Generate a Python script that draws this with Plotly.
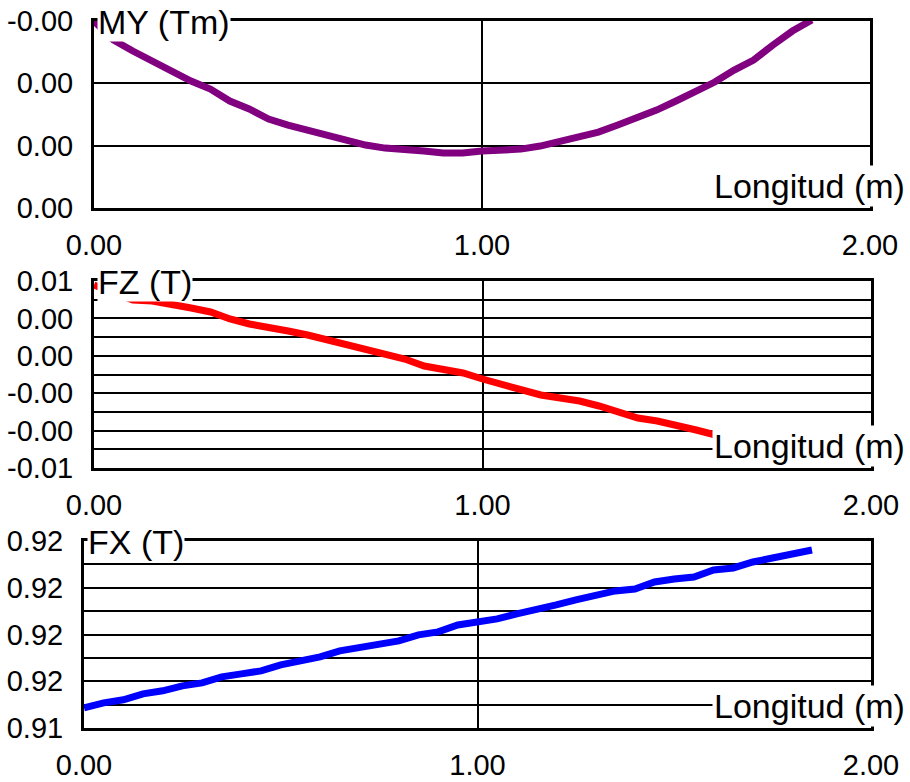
import plotly.graph_objects as go

# ---------------- data ----------------
longitud_m = [0.00, 0.05, 0.10, 0.15, 0.20, 0.25, 0.30, 0.35, 0.40, 0.45,
              0.50, 0.55, 0.60, 0.65, 0.70, 0.75, 0.80, 0.85, 0.90, 0.95,
              1.00, 1.05, 1.10, 1.15, 1.20, 1.25, 1.30, 1.35, 1.40, 1.45,
              1.50, 1.55, 1.60, 1.65, 1.70, 1.75, 1.80, 1.85]

my_tm = [-0.001000, -0.000695, -0.000518, -0.000358, -0.000181, -0.000037,
         0.000091, 0.000284, 0.000412, 0.000573, 0.000669, 0.000750,
         0.000830, 0.000894, 0.000990, 0.001039, 0.001055, 0.001087,
         0.001119, 0.001119, 0.001087, 0.001071, 0.001055, 0.001006,
         0.000926, 0.000862, 0.000782, 0.000669, 0.000557, 0.000429,
         0.000284, 0.000140, -0.000021, -0.000213, -0.000374, -0.000615,
         -0.000839, -0.001016]

fz_t = [0.004786, 0.004385, 0.003984, 0.003930, 0.003770, 0.003556,
        0.003342, 0.002968, 0.002701, 0.002540, 0.002326, 0.002112,
        0.001845, 0.001578, 0.001364, 0.001043, 0.000829, 0.000455,
        0.000294, 0.000080, -0.000241, -0.000508, -0.000775, -0.001096,
        -0.001257, -0.001417, -0.001684, -0.002005, -0.002326, -0.002487,
        -0.002701, -0.002968, -0.003235, -0.003503, -0.003770, -0.004091,
        -0.004358, -0.004626]

fx_t = [0.914863, 0.915077, 0.915205, 0.915462, 0.915590, 0.915803,
        0.915932, 0.916188, 0.916316, 0.916444, 0.916701, 0.916872,
        0.917043, 0.917299, 0.917427, 0.917598, 0.917726, 0.917983,
        0.918111, 0.918410, 0.918538, 0.918667, 0.918880, 0.919051,
        0.919265, 0.919479, 0.919692, 0.919863, 0.919949, 0.920248,
        0.920376, 0.920462, 0.920761, 0.920846, 0.921103, 0.921274,
        0.921444, 0.921615]

x_tickvals = [0, 1, 2]
x_ticktext = ["0.00", "1.00", "2.00"]

my_tickvals = [-0.001, 0.0, 0.001, 0.002]
my_ticktext = ["-0.00", "0.00", "0.00", "0.00"]

fz_tickvals = [0.005, 0.003, 0.001, -0.001, -0.003, -0.005]
fz_ticktext = ["0.01", "0.00", "0.00", "-0.00", "-0.00", "-0.01"]

fx_tickvals = [0.922, 0.920, 0.918, 0.916, 0.914]
fx_ticktext = ["0.92", "0.92", "0.92", "0.92", "0.91"]

titles = ["MY (Tm)", "FZ (T)", "FX (T)"]
x_title = "Longitud (m)"

# ---------------- layout helpers ----------------
W, H = 910, 782
def px(x):
    return x / W
def py(y):
    return 1 - y / H

FONT = "Liberation Sans"
TICK_SIZE = 29
LABEL_SIZE = 34

# panel boxes in pixels: (left, right, top, bottom)
panels = [(94, 870, 21, 208), (94, 871, 281, 468), (84, 871, 541, 728)]

fig = go.Figure()
colors = ["#800080", "#FF0000", "#0000FF"]
series = [my_tm, fz_t, fx_t]
for i, (vals, col) in enumerate(zip(series, colors)):
    suffix = "" if i == 0 else str(i + 1)
    fig.add_trace(go.Scatter(x=longitud_m, y=vals, mode="lines",
                             line=dict(color=col, width=7),
                             xaxis="x" + suffix, yaxis="y" + suffix,
                             showlegend=False, hoverinfo="skip"))

common_x = dict(range=[0, 2], tickvals=x_tickvals, ticktext=x_ticktext,
                showgrid=True, gridcolor="black", gridwidth=2,
                showline=True, linecolor="black", linewidth=3, mirror=True,
                ticks="", ticklabelstandoff=9, zeroline=False, automargin=False,
                tickfont=dict(family=FONT, size=TICK_SIZE, color="black"))
common_y = dict(showgrid=True, gridcolor="black", gridwidth=2,
                showline=True, linecolor="black", linewidth=3, mirror=True,
                ticks="", ticklabelstandoff=12, zeroline=False, automargin=False,
                tickfont=dict(family=FONT, size=TICK_SIZE, color="black"))

layout = dict(width=W, height=H, margin=dict(l=0, r=0, t=0, b=0, autoexpand=False),
              paper_bgcolor="white", plot_bgcolor="white", showlegend=False)

ytick_sets = [(my_tickvals, my_ticktext, [0.002, -0.001], None),
              (fz_tickvals, fz_ticktext, [-0.005, 0.005], 0.001),
              (fx_tickvals, fx_ticktext, [0.914, 0.922], 0.001)]

annotations = []
for i, ((l, r, t, b), (tv, tt, rng, minor_dt)) in enumerate(zip(panels, ytick_sets)):
    suffix = "" if i == 0 else str(i + 1)
    xa = dict(common_x, domain=[px(l), px(r)], anchor="y" + suffix)
    ya = dict(common_y, domain=[py(b), py(t)], anchor="x" + suffix,
              range=rng, tickvals=tv, ticktext=tt)
    if minor_dt:
        ya["minor"] = dict(dtick=minor_dt, tick0=rng[0], showgrid=True,
                           gridcolor="black", gridwidth=2, ticks="")
    layout["xaxis" + suffix] = xa
    layout["yaxis" + suffix] = ya
    annotations.append(dict(text=titles[i], xref="paper", yref="paper",
                            x=px(l + 3), y=py(t + 1), xanchor="left", yanchor="middle",
                            showarrow=False, bgcolor="white", borderpad=0,
                            font=dict(family=FONT, size=LABEL_SIZE, color="black")))
    annotations.append(dict(text=x_title, xref="paper", yref="paper",
                            x=px(907), y=py(b - 22), xanchor="right", yanchor="middle",
                            showarrow=False, bgcolor="white", borderpad=1,
                            font=dict(family=FONT, size=LABEL_SIZE, color="black")))

layout["annotations"] = annotations
fig.update_layout(**layout)
fig.write_html("out.html", config={"displayModeBar": False},
               post_script="document.body.style.margin='0';document.body.style.overflow='hidden';")
